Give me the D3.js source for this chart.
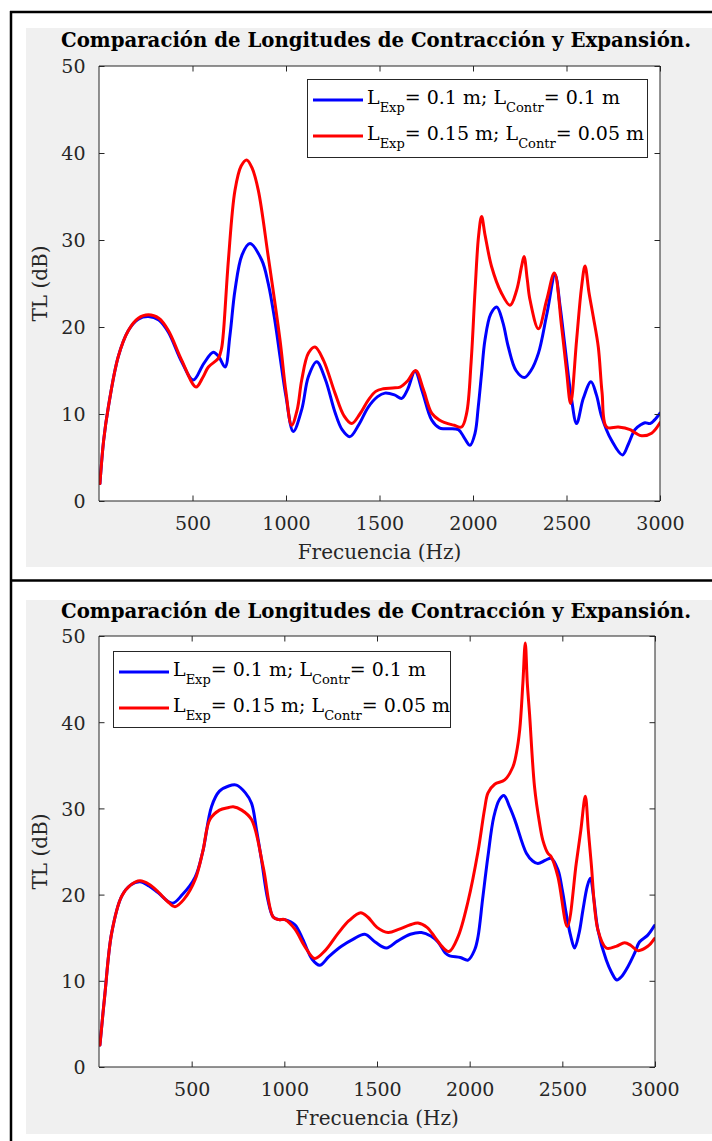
<!DOCTYPE html>
<html><head><meta charset="utf-8">
<script src="https://cdn.jsdelivr.net/npm/d3@7"></script>
<style>body{margin:0;background:#fff} svg{display:block}</style>
</head><body>
<svg id="c" width="712" height="1141"></svg>
<script>
// ---------- data ----------
const xTicks = [500, 1000, 1500, 2000, 2500, 3000];
const yTicks = [0, 10, 20, 30, 40, 50];
const titleText = "Comparación de Longitudes de Contracción y Expansión.";
const xLabel = "Frecuencia (Hz)";
const yLabel = "TL (dB)";
const seriesNames = ["blue", "red"];
const legendParts = [
  ["L", "Exp", "= 0.1 m; L", "Contr", "= 0.1 m"],
  ["L", "Exp", "= 0.15 m; L", "Contr", "= 0.05 m"]
];

// top chart
const topBlueHz = [5,25,50,103,157,210,264,320,371,442,504,560,611,640,674,700,727,765,807,870,905,940,968,1000,1039,1084,1120,1164,1210,1262,1300,1342,1390,1440,1490,1529,1580,1619,1650,1690,1730,1779,1820,1850,1922,1955,1984,2011,2028,2046,2064,2095,2127,2160,2189,2230,2275,2310,2350,2395,2439,2465,2492,2525,2554,2590,2631,2660,2688,2740,2799,2830,2866,2900,2920,2947,2970,3000];
const topBlueDb = [2.0,7.0,10.8,16.6,19.6,20.9,21.2,20.8,19.4,16.0,13.9,15.8,17.1,16.6,15.4,19.0,24.2,28.3,29.6,27.7,25.0,20.8,16.6,12.0,8.0,10.5,14.3,16.0,14.0,10.2,8.2,7.4,8.8,10.8,12.0,12.4,12.2,11.8,12.8,14.9,12.5,9.3,8.4,8.3,8.2,7.2,6.4,7.8,10.8,14.7,18.5,21.5,22.3,20.5,17.7,15.0,14.2,15.0,17.0,21.5,26.0,22.5,17.7,12.0,8.9,11.8,13.7,12.2,9.7,7.0,5.3,6.5,8.2,8.8,9.0,8.9,9.3,10.1];
const topRedHz = [5,25,50,103,157,210,264,320,371,442,519,555,585,638,655,665,692,727,760,790,820,852,905,968,1000,1030,1060,1084,1120,1155,1200,1262,1310,1351,1395,1440,1480,1520,1570,1610,1650,1693,1735,1779,1820,1850,1900,1939,1966,1990,2011,2030,2046,2065,2100,2150,2198,2233,2260,2273,2290,2305,2350,2394,2435,2474,2500,2522,2554,2580,2599,2620,2643,2670,2690,2715,2777,2840,2870,2902,2955,3000];
const topRedDb = [2.0,7.0,10.8,16.6,19.6,21.0,21.4,21.0,19.6,16.2,13.1,14.2,15.4,16.4,17.5,19.3,27.7,35.7,38.5,39.2,38.2,35.7,28.1,18.5,12.5,8.7,10.5,13.9,17.0,17.7,16.2,12.4,9.8,8.9,10.0,11.6,12.6,12.9,13.0,13.1,13.8,15.0,12.8,10.1,9.3,9.0,8.7,8.5,10.1,16.0,24.2,30.5,32.7,30.5,26.9,24.0,22.5,24.2,27.0,28.1,25.5,23.1,19.8,23.1,26.2,20.0,15.0,11.2,18.5,24.5,27.0,24.0,21.2,17.7,12.5,8.5,8.5,8.2,7.8,7.5,7.8,9.0];

// bottom chart
const botBlueHz = [5,32,68,122,170,221,270,320,395,450,518,560,607,650,700,742,790,823,850,877,910,940,970,1003,1057,1100,1150,1191,1240,1308,1370,1434,1490,1551,1610,1680,1740,1790,1829,1870,1892,1950,1991,2027,2045,2070,2099,2130,2160,2185,2215,2243,2306,2340,2368,2410,2440,2476,2500,2521,2545,2566,2590,2611,2635,2651,2670,2692,2737,2765,2794,2820,2853,2890,2916,2961,2997];
const botBlueDb = [2.55,8.5,15.5,19.8,21.1,21.5,21.0,20.2,19.0,20.0,22.0,25.0,30.2,32.0,32.6,32.7,31.8,30.6,27.5,24.0,19.5,17.4,17.1,17.1,16.5,14.8,12.5,11.8,12.8,14.0,14.8,15.4,14.5,13.8,14.6,15.4,15.6,15.2,14.5,13.2,12.9,12.7,12.4,13.6,15.1,19.5,24.5,29.0,31.0,31.5,30.2,28.7,24.8,23.9,23.6,24.0,24.2,22.9,20.5,17.8,15.2,13.8,15.5,18.2,21.0,21.9,19.5,15.9,12.4,11.0,10.1,10.5,11.6,13.2,14.5,15.3,16.4];
const botRedHz = [5,32,68,122,170,221,270,320,370,410,460,518,560,598,650,700,724,770,823,886,940,970,1003,1057,1110,1164,1220,1290,1350,1412,1450,1500,1560,1620,1680,1721,1770,1811,1850,1889,1937,1991,2045,2081,2099,2135,2189,2233,2252,2270,2287,2300,2311,2323,2350,2377,2395,2422,2440,2476,2527,2575,2600,2624,2640,2656,2692,2737,2790,2836,2870,2907,2961,2997];
const botRedDb = [2.55,8.5,15.5,19.8,21.1,21.6,21.2,20.3,19.2,18.6,19.5,21.7,25.0,28.7,29.8,30.1,30.2,29.8,28.7,23.2,17.4,17.1,17.1,16.0,14.0,12.6,13.5,15.5,17.0,17.9,17.4,16.2,15.6,16.0,16.5,16.7,16.2,15.1,14.0,13.4,15.1,19.2,25.0,30.0,31.8,32.8,33.3,34.8,36.4,39.1,44.5,49.2,44.5,41.0,32.5,28.3,26.3,24.8,24.4,22.1,16.3,23.6,27.5,31.4,27.5,23.6,15.9,13.8,14.0,14.4,14.1,13.5,14.0,14.9];

// ---------- drawing ----------
const svg = d3.select("#c");
const colors = {blue: "#0000ff", red: "#ff0000"};
const axisColor = "#262626";

// table borders
svg.append("line").attr("x1", 10).attr("x2", 712).attr("y1", 12).attr("y2", 12).attr("stroke", "#000").attr("stroke-width", 2.5);
svg.append("line").attr("x1", 11).attr("x2", 11).attr("y1", 11).attr("y2", 1141).attr("stroke", "#000").attr("stroke-width", 2.5);
svg.append("line").attr("x1", 10).attr("x2", 712).attr("y1", 580.5).attr("y2", 580.5).attr("stroke", "#000").attr("stroke-width", 2.5);

const panels = [
  {gy: 28, gh: 539, ax: 99, ay: 66, aw: 561, ah: 435, titleY: 47,
   data: {blue: [topBlueHz, topBlueDb], red: [topRedHz, topRedDb]},
   leg: {x: 307, y: 79, w: 340, h: 78}},
  {gy: 600, gh: 534, ax: 99, ay: 636, aw: 556, ah: 431, titleY: 618,
   data: {blue: [botBlueHz, botBlueDb], red: [botRedHz, botRedDb]},
   leg: {x: 113, y: 651, w: 337, h: 76}}
];

panels.forEach((p, pi) => {
  const g = svg.append("g");
  g.append("rect").attr("x", 26).attr("y", p.gy).attr("width", 712 - 26).attr("height", p.gh).attr("fill", "#f0f0f0");
  g.append("rect").attr("x", p.ax).attr("y", p.ay).attr("width", p.aw).attr("height", p.ah).attr("fill", "#fff");

  const x = d3.scaleLinear().domain([0, 3000]).range([p.ax, p.ax + p.aw]);
  const y = d3.scaleLinear().domain([0, 50]).range([p.ay + p.ah, p.ay]);

  const clipId = "clip" + pi;
  g.append("clipPath").attr("id", clipId).append("rect")
    .attr("x", p.ax).attr("y", p.ay).attr("width", p.aw).attr("height", p.ah);

  const line = d3.line().x(d => x(d[0])).y(d => y(d[1])).curve(d3.curveCatmullRom.alpha(0.5));
  seriesNames.forEach(s => {
    const [hz, db] = p.data[s];
    const pts = hz.map((h, i) => [h, db[i]]);
    g.append("path").attr("d", line(pts)).attr("fill", "none")
      .attr("stroke", colors[s]).attr("stroke-width", 3)
      .attr("stroke-linejoin", "round").attr("stroke-linecap", "round")
      .attr("clip-path", `url(#${clipId})`);
  });

  // axes with inward ticks on all sides
  const tl = 5.5;
  const fontTick = "DejaVu Serif";
  const fmt = d3.format("d");
  const bottomAx = d3.axisBottom(x).tickValues(xTicks).tickFormat(fmt).tickSize(-tl).tickPadding(tl + 9);
  const topAx = d3.axisTop(x).tickValues(xTicks).tickSize(-tl).tickFormat("");
  const leftAx = d3.axisLeft(y).tickValues(yTicks).tickFormat(fmt).tickSize(-tl).tickPadding(tl + 8);
  const rightAx = d3.axisRight(y).tickValues(yTicks).tickSize(-tl).tickFormat("");

  const styleAxis = sel => {
    sel.selectAll("path").attr("stroke", axisColor).attr("stroke-width", 1);
    sel.selectAll("line").attr("stroke", axisColor).attr("stroke-width", 1);
    sel.selectAll("text").attr("fill", axisColor).attr("font-family", fontTick).attr("font-size", 19);
  };
  const gb = g.append("g").attr("transform", `translate(0,${p.ay + p.ah})`).call(bottomAx);
  gb.select(".domain").attr("d", `M${p.ax},0H${p.ax + p.aw}`);
  styleAxis(gb);
  gb.selectAll("text").attr("dy", null).attr("y", 29);
  const gt = g.append("g").attr("transform", `translate(0,${p.ay})`).call(topAx);
  gt.select(".domain").attr("d", `M${p.ax},0H${p.ax + p.aw}`);
  styleAxis(gt);
  const gl = g.append("g").attr("transform", `translate(${p.ax},0)`).call(leftAx);
  gl.select(".domain").attr("d", `M0,${p.ay}V${p.ay + p.ah}`);
  styleAxis(gl);
  gl.selectAll("text").attr("dy", "0.36em");
  const gr = g.append("g").attr("transform", `translate(${p.ax + p.aw},0)`).call(rightAx);
  gr.select(".domain").attr("d", `M0,${p.ay}V${p.ay + p.ah}`);
  styleAxis(gr);

  // title
  g.append("text").attr("x", 376).attr("y", p.titleY).attr("text-anchor", "middle")
    .attr("font-family", "DejaVu Serif").attr("font-weight", "bold").attr("font-size", 19.5)
    .attr("textLength", 630).attr("lengthAdjust", "spacingAndGlyphs")
    .attr("fill", "#000").text(titleText);

  // x label
  g.append("text").attr("x", p.ax + p.aw / 2).attr("y", p.ay + p.ah + 58).attr("text-anchor", "middle")
    .attr("font-family", "DejaVu Serif").attr("font-size", 20).attr("fill", axisColor).text(xLabel);
  // y label
  g.append("text").attr("transform", `translate(47,${p.ay + p.ah / 2}) rotate(-90)`).attr("text-anchor", "middle")
    .attr("font-family", "DejaVu Serif").attr("font-size", 20).attr("fill", axisColor).text(yLabel);

  // legend
  const L = p.leg;
  const lg = g.append("g");
  lg.append("rect").attr("x", L.x + 0.5).attr("y", L.y + 0.5).attr("width", L.w).attr("height", L.h)
    .attr("fill", "#fff").attr("stroke", axisColor).attr("stroke-width", 1);
  seriesNames.forEach((s, i) => {
    const ly = L.y + 21 + i * 36;
    lg.append("line").attr("x1", L.x + 6).attr("x2", L.x + 56).attr("y1", ly).attr("y2", ly)
      .attr("stroke", colors[s]).attr("stroke-width", 3);
    const parts = legendParts[i];
    const t = lg.append("text").attr("x", L.x + 60).attr("y", ly + 4)
      .attr("font-family", "DejaVu Serif").attr("font-size", 19).attr("fill", "#000");
    t.append("tspan").text(parts[0]);
    t.append("tspan").attr("font-size", 13).attr("dy", 8).text(parts[1]);
    t.append("tspan").attr("dy", -8).text(parts[2]);
    t.append("tspan").attr("font-size", 13).attr("dy", 8).text(parts[3]);
    t.append("tspan").attr("dy", -8).text(parts[4]);
  });
});
</script>
</body></html>
